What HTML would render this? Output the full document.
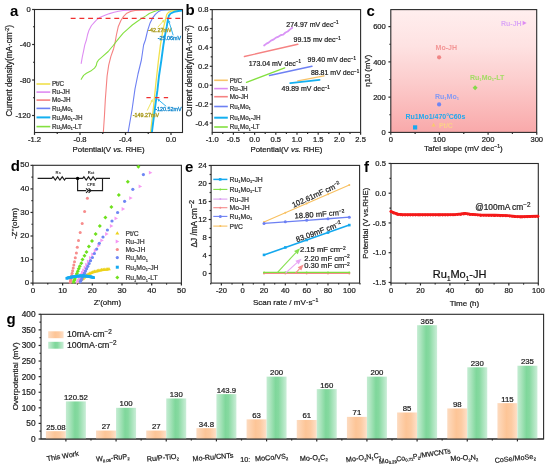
<!DOCTYPE html><html><head><meta charset="utf-8"><style>html,body{margin:0;padding:0;background:#fff;}svg{display:block;will-change:transform;}text{font-family:"Liberation Sans",sans-serif;}</style></head><body>
<svg width="550" height="469" viewBox="0 0 550 469">
<defs>
<linearGradient id="pink" x1="0" y1="0" x2="0" y2="1"><stop offset="0" stop-color="#ffeeee"/><stop offset="0.3" stop-color="#fee2e2"/><stop offset="0.6" stop-color="#fccbcb"/><stop offset="1" stop-color="#f9a9aa"/></linearGradient>
<linearGradient id="grn" x1="0" y1="0" x2="1" y2="0"><stop offset="0" stop-color="#c4ecd2"/><stop offset="0.15" stop-color="#b0e6c2"/><stop offset="0.45" stop-color="#7fd79b"/><stop offset="0.6" stop-color="#86d9a0"/><stop offset="1" stop-color="#cbeed8"/></linearGradient>
<linearGradient id="org" x1="0" y1="0" x2="1" y2="0"><stop offset="0" stop-color="#fddbc0"/><stop offset="0.45" stop-color="#fdc597"/><stop offset="0.7" stop-color="#fdcba2"/><stop offset="1" stop-color="#fee0c9"/></linearGradient>
<marker id="ahY" markerWidth="6" markerHeight="6" refX="5" refY="3" orient="auto" markerUnits="userSpaceOnUse"><path d="M0,0 L6,3 L0,6 z" fill="#ede04a"/></marker>
</defs>
<rect width="550" height="469" fill="#fff"/>
<rect x="34.5" y="9.5" width="148" height="123" fill="none" stroke="#2a2a2a" stroke-width="1.1"/>
<line x1="34.5" y1="132.5" x2="34.5" y2="134.9" stroke="#2a2a2a" stroke-width="1.2" />
<line x1="80" y1="132.5" x2="80" y2="134.9" stroke="#2a2a2a" stroke-width="1.2" />
<line x1="125.5" y1="132.5" x2="125.5" y2="134.9" stroke="#2a2a2a" stroke-width="1.2" />
<line x1="171" y1="132.5" x2="171" y2="134.9" stroke="#2a2a2a" stroke-width="1.2" />
<line x1="57.25" y1="132.5" x2="57.25" y2="134" stroke="#2a2a2a" stroke-width="1.2" />
<line x1="102.75" y1="132.5" x2="102.75" y2="134" stroke="#2a2a2a" stroke-width="1.2" />
<line x1="148.25" y1="132.5" x2="148.25" y2="134" stroke="#2a2a2a" stroke-width="1.2" />
<line x1="32.1" y1="9.5" x2="34.5" y2="9.5" stroke="#2a2a2a" stroke-width="1.2" />
<line x1="32.1" y1="44.5" x2="34.5" y2="44.5" stroke="#2a2a2a" stroke-width="1.2" />
<line x1="32.1" y1="80" x2="34.5" y2="80" stroke="#2a2a2a" stroke-width="1.2" />
<line x1="32.1" y1="115.5" x2="34.5" y2="115.5" stroke="#2a2a2a" stroke-width="1.2" />
<line x1="33" y1="26.75" x2="34.5" y2="26.75" stroke="#2a2a2a" stroke-width="1.2" />
<line x1="33" y1="62.25" x2="34.5" y2="62.25" stroke="#2a2a2a" stroke-width="1.2" />
<line x1="33" y1="97.75" x2="34.5" y2="97.75" stroke="#2a2a2a" stroke-width="1.2" />
<text x="34.5" y="141.74" font-size="7.6" text-anchor="middle" fill="#222" stroke="#222" stroke-width="0.22"><tspan font-size="7.6">-1.2</tspan></text>
<text x="80" y="141.74" font-size="7.6" text-anchor="middle" fill="#222" stroke="#222" stroke-width="0.22"><tspan font-size="7.6">-0.8</tspan></text>
<text x="125.5" y="141.74" font-size="7.6" text-anchor="middle" fill="#222" stroke="#222" stroke-width="0.22"><tspan font-size="7.6">-0.4</tspan></text>
<text x="171" y="141.74" font-size="7.6" text-anchor="middle" fill="#222" stroke="#222" stroke-width="0.22"><tspan font-size="7.6">0.0</tspan></text>
<text x="30.8" y="11.74" font-size="7.6" text-anchor="end" fill="#222" stroke="#222" stroke-width="0.22"><tspan font-size="7.6">0</tspan></text>
<text x="30.8" y="47.24" font-size="7.6" text-anchor="end" fill="#222" stroke="#222" stroke-width="0.22"><tspan font-size="7.6">-40</tspan></text>
<text x="30.8" y="82.74" font-size="7.6" text-anchor="end" fill="#222" stroke="#222" stroke-width="0.22"><tspan font-size="7.6">-80</tspan></text>
<text x="30.8" y="118.24" font-size="7.6" text-anchor="end" fill="#222" stroke="#222" stroke-width="0.22"><tspan font-size="7.6">-120</tspan></text>
<text x="108.6" y="152.23" font-size="7.85" text-anchor="middle" fill="#222" stroke="#222" stroke-width="0.22"><tspan font-size="7.85">Potential(V </tspan><tspan font-size="7.85" font-style="italic">vs.</tspan><tspan font-size="7.85"> RHE)</tspan></text>
<text x="9.1" y="73.75" font-size="8.2" text-anchor="middle" fill="#222" stroke="#222" stroke-width="0.22" transform="rotate(-90 9.1 70.8)"><tspan font-size="8.2">Current density(mA·cm</tspan><tspan dy="-2.95" font-size="5.25">-2</tspan><tspan dy="2.95" font-size="8.2">)</tspan></text>
<text x="10" y="15.5" font-size="15" font-weight="bold" fill="#000">a</text>
<clipPath id="ca"><rect x="35" y="10" width="147" height="122"/></clipPath><g clip-path="url(#ca)">
<polyline points="81.2,63.4 82.3,57 83.6,50.9 84.8,44.8 86.4,40 87.6,34.5 89.1,29.9 91.5,25.5 94.3,22.4 97,19.5 100.3,17.2 105,15.3 109.5,13.6 114.1,12.3 118.6,11.2 123.2,10.5 127.7,10.2 140,9.8 150,9.6" fill="none" stroke="#de8cf2" stroke-width="1.1" stroke-linejoin="round" stroke-linecap="round" />
<polyline points="103.3,133 104.5,115 105.3,100 106.2,88 107.1,76 108.7,65.1 110.9,56.4 113.6,48.7 115,43 116.4,35 118.2,26.8 120.9,20.5 123.6,16.4 126.8,13.2 130.5,11.4 135,10.5 141.4,10.2 155,9.9" fill="none" stroke="#f58282" stroke-width="1.1" stroke-linejoin="round" stroke-linecap="round" />
<polyline points="81.2,79.3 83.6,75.4 86.4,73.3 90.7,71.1 94.5,68.1 96.2,65.6 97,62.4 98.4,60.2 102.7,56.4 108.2,51.5 113.2,45.5 118.6,38.6 123.2,33.2 127.7,29.1 132.3,25 136.8,21.8 141.4,18.6 145.9,15.9 149.3,13.5 153.5,11.7 157.8,10.3 165,9.8 175,9.6" fill="none" stroke="#84e040" stroke-width="1.1" stroke-linejoin="round" stroke-linecap="round" />
<polyline points="128,133 132,110 135,88.8 138,74 141.4,60 143.6,45 145.4,40 147.6,30.6 150.1,22.9 152.7,17.8 155.3,14.4 158.7,11.4 162.1,10.1 170,9.7 178,9.6" fill="none" stroke="#6d80f3" stroke-width="1.1" stroke-linejoin="round" stroke-linecap="round" />
<polyline points="150.5,133 153.4,107.9 155.8,84 158.5,60 160.4,45 162.1,34.9 163.8,26.4 165.5,19.5 166.8,14.4 168.5,12.3 171.5,11 175.8,10.6 182,10.3" fill="none" stroke="#f0e04c" stroke-width="1.3" stroke-linejoin="round" stroke-linecap="round" />
<polyline points="151.8,133 155,107.9 157.4,90.4 159,76 161.4,60 163.4,45 165.1,34.9 166.8,26.4 167.9,19.5 168.9,15.7 170.6,13.5 174.1,11.8 178.3,11 182,10.6" fill="none" stroke="#14b0f0" stroke-width="1.9" stroke-linejoin="round" stroke-linecap="round" />
</g>
<line x1="70.7" y1="18.4" x2="182" y2="18.4" stroke="#f03030" stroke-width="1.25" stroke-dasharray="4.9,3.82"/>
<line x1="146.4" y1="97.5" x2="168.4" y2="97.5" stroke="#f03030" stroke-width="1.25" stroke-dasharray="4.3,4.4"/>
<text x="160" y="32.14" font-size="5.4" text-anchor="middle" fill="#ab9c22" stroke="#ab9c22" stroke-width="0.35"><tspan font-size="5.4">-42.27mV</tspan></text>
<text x="169.4" y="39.84" font-size="5.4" text-anchor="middle" fill="#1a8cd0" stroke="#1a8cd0" stroke-width="0.35"><tspan font-size="5.4">-25.06mV</tspan></text>
<text x="146" y="117.04" font-size="5.4" text-anchor="middle" fill="#ab9c22" stroke="#ab9c22" stroke-width="0.35"><tspan font-size="5.4">-149.27mV</tspan></text>
<text x="168.5" y="110.64" font-size="5.4" text-anchor="middle" fill="#1a8cd0" stroke="#1a8cd0" stroke-width="0.35"><tspan font-size="5.4">-120.52mV</tspan></text>
<line x1="157.8" y1="27.2" x2="162.6" y2="21.84" stroke="#ece24c" stroke-width="0.9" />
<path d="M164.6,19.6 L163.57,22.7 L161.63,20.97 z" fill="#ece24c"/>
<line x1="173.2" y1="35.3" x2="169.29" y2="22.67" stroke="#18aaee" stroke-width="0.9" />
<path d="M168.4,19.8 L170.53,22.28 L168.05,23.05 z" fill="#18aaee"/>
<line x1="147.2" y1="110.6" x2="151.5" y2="101.7" stroke="#ece24c" stroke-width="0.9" />
<path d="M152.8,99 L152.67,102.27 L150.33,101.14 z" fill="#ece24c"/>
<line x1="166.2" y1="106.3" x2="159.5" y2="100.72" stroke="#18aaee" stroke-width="0.9" />
<path d="M157.2,98.8 L160.34,99.72 L158.67,101.72 z" fill="#18aaee"/>
<line x1="36.5" y1="84" x2="50.3" y2="84" stroke="#f0e04c" stroke-width="1.6" />
<text x="51.9" y="86.27" font-size="6.3" text-anchor="start" fill="#333" stroke="#333" stroke-width="0.22"><tspan font-size="6.3">Pt/C</tspan></text>
<line x1="36.5" y1="92.1" x2="50.3" y2="92.1" stroke="#de8cf2" stroke-width="1.6" />
<text x="51.9" y="94.37" font-size="6.3" text-anchor="start" fill="#333" stroke="#333" stroke-width="0.22"><tspan font-size="6.3">Ru-JH</tspan></text>
<line x1="36.5" y1="100.1" x2="50.3" y2="100.1" stroke="#f58282" stroke-width="1.6" />
<text x="51.9" y="102.37" font-size="6.3" text-anchor="start" fill="#333" stroke="#333" stroke-width="0.22"><tspan font-size="6.3">Mo-JH</tspan></text>
<line x1="36.5" y1="108.4" x2="50.3" y2="108.4" stroke="#6d80f3" stroke-width="1.6" />
<text x="51.9" y="110.67" font-size="6.3" text-anchor="start" fill="#333" stroke="#333" stroke-width="0.22"><tspan font-size="6.3">Ru</tspan><tspan dy="1.39" font-size="3.65">1</tspan><tspan dy="-1.39" font-size="6.3">Mo</tspan><tspan dy="1.39" font-size="3.65">1</tspan></text>
<line x1="36.5" y1="117.4" x2="50.3" y2="117.4" stroke="#14b0f0" stroke-width="2.0" />
<text x="51.9" y="119.67" font-size="6.3" text-anchor="start" fill="#333" stroke="#333" stroke-width="0.22"><tspan font-size="6.3">Ru</tspan><tspan dy="1.39" font-size="3.65">1</tspan><tspan dy="-1.39" font-size="6.3">Mo</tspan><tspan dy="1.39" font-size="3.65">1</tspan><tspan dy="-1.39" font-size="6.3">-JH</tspan></text>
<line x1="36.5" y1="126.6" x2="50.3" y2="126.6" stroke="#84e040" stroke-width="1.6" />
<text x="51.9" y="128.87" font-size="6.3" text-anchor="start" fill="#333" stroke="#333" stroke-width="0.22"><tspan font-size="6.3">Ru</tspan><tspan dy="1.39" font-size="3.65">1</tspan><tspan dy="-1.39" font-size="6.3">Mo</tspan><tspan dy="1.39" font-size="3.65">1</tspan><tspan dy="-1.39" font-size="6.3">-LT</tspan></text>
<rect x="212.2" y="9.6" width="148.4" height="122.8" fill="none" stroke="#2a2a2a" stroke-width="1.1"/>
<line x1="212.2" y1="132.4" x2="212.2" y2="134.8" stroke="#2a2a2a" stroke-width="1.2" />
<line x1="233.4" y1="132.4" x2="233.4" y2="134.8" stroke="#2a2a2a" stroke-width="1.2" />
<line x1="254.6" y1="132.4" x2="254.6" y2="134.8" stroke="#2a2a2a" stroke-width="1.2" />
<line x1="275.8" y1="132.4" x2="275.8" y2="134.8" stroke="#2a2a2a" stroke-width="1.2" />
<line x1="297" y1="132.4" x2="297" y2="134.8" stroke="#2a2a2a" stroke-width="1.2" />
<line x1="318.2" y1="132.4" x2="318.2" y2="134.8" stroke="#2a2a2a" stroke-width="1.2" />
<line x1="339.4" y1="132.4" x2="339.4" y2="134.8" stroke="#2a2a2a" stroke-width="1.2" />
<line x1="360.6" y1="132.4" x2="360.6" y2="134.8" stroke="#2a2a2a" stroke-width="1.2" />
<line x1="222.8" y1="132.4" x2="222.8" y2="133.9" stroke="#2a2a2a" stroke-width="1.2" />
<line x1="244" y1="132.4" x2="244" y2="133.9" stroke="#2a2a2a" stroke-width="1.2" />
<line x1="265.2" y1="132.4" x2="265.2" y2="133.9" stroke="#2a2a2a" stroke-width="1.2" />
<line x1="286.4" y1="132.4" x2="286.4" y2="133.9" stroke="#2a2a2a" stroke-width="1.2" />
<line x1="307.6" y1="132.4" x2="307.6" y2="133.9" stroke="#2a2a2a" stroke-width="1.2" />
<line x1="328.8" y1="132.4" x2="328.8" y2="133.9" stroke="#2a2a2a" stroke-width="1.2" />
<line x1="350" y1="132.4" x2="350" y2="133.9" stroke="#2a2a2a" stroke-width="1.2" />
<line x1="209.8" y1="9.6" x2="212.2" y2="9.6" stroke="#2a2a2a" stroke-width="1.2" />
<line x1="209.8" y1="28.5" x2="212.2" y2="28.5" stroke="#2a2a2a" stroke-width="1.2" />
<line x1="209.8" y1="47.4" x2="212.2" y2="47.4" stroke="#2a2a2a" stroke-width="1.2" />
<line x1="209.8" y1="66.3" x2="212.2" y2="66.3" stroke="#2a2a2a" stroke-width="1.2" />
<line x1="209.8" y1="85.2" x2="212.2" y2="85.2" stroke="#2a2a2a" stroke-width="1.2" />
<line x1="209.8" y1="104.1" x2="212.2" y2="104.1" stroke="#2a2a2a" stroke-width="1.2" />
<line x1="209.8" y1="123" x2="212.2" y2="123" stroke="#2a2a2a" stroke-width="1.2" />
<line x1="210.7" y1="19.05" x2="212.2" y2="19.05" stroke="#2a2a2a" stroke-width="1.2" />
<line x1="210.7" y1="37.95" x2="212.2" y2="37.95" stroke="#2a2a2a" stroke-width="1.2" />
<line x1="210.7" y1="56.85" x2="212.2" y2="56.85" stroke="#2a2a2a" stroke-width="1.2" />
<line x1="210.7" y1="75.75" x2="212.2" y2="75.75" stroke="#2a2a2a" stroke-width="1.2" />
<line x1="210.7" y1="94.65" x2="212.2" y2="94.65" stroke="#2a2a2a" stroke-width="1.2" />
<line x1="210.7" y1="113.55" x2="212.2" y2="113.55" stroke="#2a2a2a" stroke-width="1.2" />
<text x="212.2" y="141.74" font-size="7.6" text-anchor="middle" fill="#222" stroke="#222" stroke-width="0.22"><tspan font-size="7.6">-1.0</tspan></text>
<text x="233.4" y="141.74" font-size="7.6" text-anchor="middle" fill="#222" stroke="#222" stroke-width="0.22"><tspan font-size="7.6">-0.5</tspan></text>
<text x="254.6" y="141.74" font-size="7.6" text-anchor="middle" fill="#222" stroke="#222" stroke-width="0.22"><tspan font-size="7.6">0.0</tspan></text>
<text x="275.8" y="141.74" font-size="7.6" text-anchor="middle" fill="#222" stroke="#222" stroke-width="0.22"><tspan font-size="7.6">0.5</tspan></text>
<text x="297" y="141.74" font-size="7.6" text-anchor="middle" fill="#222" stroke="#222" stroke-width="0.22"><tspan font-size="7.6">1.0</tspan></text>
<text x="318.2" y="141.74" font-size="7.6" text-anchor="middle" fill="#222" stroke="#222" stroke-width="0.22"><tspan font-size="7.6">1.5</tspan></text>
<text x="339.4" y="141.74" font-size="7.6" text-anchor="middle" fill="#222" stroke="#222" stroke-width="0.22"><tspan font-size="7.6">2.0</tspan></text>
<text x="360.6" y="141.74" font-size="7.6" text-anchor="middle" fill="#222" stroke="#222" stroke-width="0.22"><tspan font-size="7.6">2.5</tspan></text>
<text x="208.6" y="12.34" font-size="7.6" text-anchor="end" fill="#222" stroke="#222" stroke-width="0.22"><tspan font-size="7.6">0.8</tspan></text>
<text x="208.6" y="31.24" font-size="7.6" text-anchor="end" fill="#222" stroke="#222" stroke-width="0.22"><tspan font-size="7.6">0.6</tspan></text>
<text x="208.6" y="50.14" font-size="7.6" text-anchor="end" fill="#222" stroke="#222" stroke-width="0.22"><tspan font-size="7.6">0.4</tspan></text>
<text x="208.6" y="69.04" font-size="7.6" text-anchor="end" fill="#222" stroke="#222" stroke-width="0.22"><tspan font-size="7.6">0.2</tspan></text>
<text x="208.6" y="87.94" font-size="7.6" text-anchor="end" fill="#222" stroke="#222" stroke-width="0.22"><tspan font-size="7.6">0.0</tspan></text>
<text x="208.6" y="106.84" font-size="7.6" text-anchor="end" fill="#222" stroke="#222" stroke-width="0.22"><tspan font-size="7.6">-0.2</tspan></text>
<text x="208.6" y="125.74" font-size="7.6" text-anchor="end" fill="#222" stroke="#222" stroke-width="0.22"><tspan font-size="7.6">-0.4</tspan></text>
<text x="286.4" y="152.43" font-size="7.85" text-anchor="middle" fill="#222" stroke="#222" stroke-width="0.22"><tspan font-size="7.85">Potential(V </tspan><tspan font-size="7.85" font-style="italic">vs.</tspan><tspan font-size="7.85"> RHE)</tspan></text>
<text x="188.7" y="73.95" font-size="8.2" text-anchor="middle" fill="#222" stroke="#222" stroke-width="0.22" transform="rotate(-90 188.7 71)"><tspan font-size="8.2">Current density(mA·cm</tspan><tspan dy="-2.95" font-size="5.25">-2</tspan><tspan dy="2.95" font-size="8.2">)</tspan></text>
<text x="185.5" y="14.8" font-size="15" font-weight="bold" fill="#000">b</text>
<polyline points="264.1,45.5 266.5,43.6 268.6,42.6 271,40.6 273.2,39.7 276,37.6 278.6,36.6 281,35 283.2,34.6 285.5,32.5 287.7,31.5 290,29.4 292.3,27.7" fill="none" stroke="#d994f6" stroke-width="1.8" stroke-linejoin="round" stroke-linecap="round" />
<polyline points="244.4,56.5 297.8,44.3" fill="none" stroke="#f58282" stroke-width="1.4" stroke-linejoin="round" stroke-linecap="round" />
<polyline points="246.5,82.4 284.7,67.8" fill="none" stroke="#84e040" stroke-width="1.3" stroke-linejoin="round" stroke-linecap="round" />
<polyline points="269.5,75.5 312,66.3" fill="none" stroke="#6d80f3" stroke-width="1.4" stroke-linejoin="round" stroke-linecap="round" />
<polyline points="297.8,80.9 324,75.9" fill="none" stroke="#f8c46a" stroke-width="1.4" stroke-linejoin="round" stroke-linecap="round" />
<polyline points="290.2,83.1 319.6,79.8" fill="none" stroke="#14b0f0" stroke-width="1.8" stroke-linejoin="round" stroke-linecap="round" />
<text x="286.3" y="26.72" font-size="7" text-anchor="start" fill="#222" stroke="#222" stroke-width="0.22"><tspan font-size="7">274.97 mV dec</tspan><tspan dy="-2.52" font-size="4.48">−1</tspan></text>
<text x="293.5" y="42.02" font-size="7" text-anchor="start" fill="#222" stroke="#222" stroke-width="0.22"><tspan font-size="7">99.15 mv dec</tspan><tspan dy="-2.52" font-size="4.48">−1</tspan></text>
<text x="248.7" y="65.52" font-size="7" text-anchor="start" fill="#222" stroke="#222" stroke-width="0.22"><tspan font-size="7">173.04 mV dec</tspan><tspan dy="-2.52" font-size="4.48">−1</tspan></text>
<text x="307.6" y="62.22" font-size="7" text-anchor="start" fill="#222" stroke="#222" stroke-width="0.22"><tspan font-size="7">99.40 mV dec</tspan><tspan dy="-2.52" font-size="4.48">−1</tspan></text>
<text x="310.9" y="75.32" font-size="7" text-anchor="start" fill="#222" stroke="#222" stroke-width="0.22"><tspan font-size="7">88.81 mV dec</tspan><tspan dy="-2.52" font-size="4.48">−1</tspan></text>
<text x="281.5" y="91.12" font-size="7" text-anchor="start" fill="#222" stroke="#222" stroke-width="0.22"><tspan font-size="7">49.89 mV dec</tspan><tspan dy="-2.52" font-size="4.48">−1</tspan></text>
<line x1="214.2" y1="80.3" x2="227.8" y2="80.3" stroke="#f8c46a" stroke-width="1.6" />
<text x="229.8" y="82.57" font-size="6.3" text-anchor="start" fill="#333" stroke="#333" stroke-width="0.22"><tspan font-size="6.3">Pt/C</tspan></text>
<line x1="214.2" y1="88.6" x2="227.8" y2="88.6" stroke="#de8cf2" stroke-width="1.6" />
<text x="229.8" y="90.87" font-size="6.3" text-anchor="start" fill="#333" stroke="#333" stroke-width="0.22"><tspan font-size="6.3">Ru-JH</tspan></text>
<line x1="214.2" y1="96.7" x2="227.8" y2="96.7" stroke="#f58282" stroke-width="1.6" />
<text x="229.8" y="98.97" font-size="6.3" text-anchor="start" fill="#333" stroke="#333" stroke-width="0.22"><tspan font-size="6.3">Mo-JH</tspan></text>
<line x1="214.2" y1="106.5" x2="227.8" y2="106.5" stroke="#6d80f3" stroke-width="1.6" />
<text x="229.8" y="108.77" font-size="6.3" text-anchor="start" fill="#333" stroke="#333" stroke-width="0.22"><tspan font-size="6.3">Ru</tspan><tspan dy="1.39" font-size="3.65">1</tspan><tspan dy="-1.39" font-size="6.3">Mo</tspan><tspan dy="1.39" font-size="3.65">1</tspan></text>
<line x1="214.2" y1="117.7" x2="227.8" y2="117.7" stroke="#14b0f0" stroke-width="2.0" />
<text x="229.8" y="119.97" font-size="6.3" text-anchor="start" fill="#333" stroke="#333" stroke-width="0.22"><tspan font-size="6.3">Ru</tspan><tspan dy="1.39" font-size="3.65">1</tspan><tspan dy="-1.39" font-size="6.3">Mo</tspan><tspan dy="1.39" font-size="3.65">1</tspan><tspan dy="-1.39" font-size="6.3">-JH</tspan></text>
<line x1="214.2" y1="127" x2="227.8" y2="127" stroke="#84e040" stroke-width="1.6" />
<text x="229.8" y="129.27" font-size="6.3" text-anchor="start" fill="#333" stroke="#333" stroke-width="0.22"><tspan font-size="6.3">Ru</tspan><tspan dy="1.39" font-size="3.65">1</tspan><tspan dy="-1.39" font-size="6.3">Mo</tspan><tspan dy="1.39" font-size="3.65">1</tspan><tspan dy="-1.39" font-size="6.3">-LT</tspan></text>
<rect x="390.8" y="9.6" width="145.9" height="122.8" fill="url(#pink)"/>
<rect x="390.8" y="9.6" width="145.9" height="122.8" fill="none" stroke="#2a2a2a" stroke-width="1.1"/>
<line x1="390.8" y1="132.4" x2="390.8" y2="134.8" stroke="#2a2a2a" stroke-width="1.2" />
<line x1="439.45" y1="132.4" x2="439.45" y2="134.8" stroke="#2a2a2a" stroke-width="1.2" />
<line x1="488.1" y1="132.4" x2="488.1" y2="134.8" stroke="#2a2a2a" stroke-width="1.2" />
<line x1="536.75" y1="132.4" x2="536.75" y2="134.8" stroke="#2a2a2a" stroke-width="1.2" />
<line x1="415.12" y1="132.4" x2="415.12" y2="133.9" stroke="#2a2a2a" stroke-width="1.2" />
<line x1="463.77" y1="132.4" x2="463.77" y2="133.9" stroke="#2a2a2a" stroke-width="1.2" />
<line x1="512.42" y1="132.4" x2="512.42" y2="133.9" stroke="#2a2a2a" stroke-width="1.2" />
<line x1="388.4" y1="132.4" x2="390.8" y2="132.4" stroke="#2a2a2a" stroke-width="1.2" />
<line x1="388.4" y1="97.14" x2="390.8" y2="97.14" stroke="#2a2a2a" stroke-width="1.2" />
<line x1="388.4" y1="61.88" x2="390.8" y2="61.88" stroke="#2a2a2a" stroke-width="1.2" />
<line x1="388.4" y1="26.62" x2="390.8" y2="26.62" stroke="#2a2a2a" stroke-width="1.2" />
<line x1="389.3" y1="114.77" x2="390.8" y2="114.77" stroke="#2a2a2a" stroke-width="1.2" />
<line x1="389.3" y1="79.51" x2="390.8" y2="79.51" stroke="#2a2a2a" stroke-width="1.2" />
<line x1="389.3" y1="44.25" x2="390.8" y2="44.25" stroke="#2a2a2a" stroke-width="1.2" />
<text x="390.8" y="141.74" font-size="7.6" text-anchor="middle" fill="#222" stroke="#222" stroke-width="0.22"><tspan font-size="7.6">0</tspan></text>
<text x="439.45" y="141.74" font-size="7.6" text-anchor="middle" fill="#222" stroke="#222" stroke-width="0.22"><tspan font-size="7.6">100</tspan></text>
<text x="488.1" y="141.74" font-size="7.6" text-anchor="middle" fill="#222" stroke="#222" stroke-width="0.22"><tspan font-size="7.6">200</tspan></text>
<text x="536.75" y="141.74" font-size="7.6" text-anchor="middle" fill="#222" stroke="#222" stroke-width="0.22"><tspan font-size="7.6">300</tspan></text>
<text x="385.8" y="135.14" font-size="7.6" text-anchor="end" fill="#222" stroke="#222" stroke-width="0.22"><tspan font-size="7.6">0</tspan></text>
<text x="385.8" y="99.88" font-size="7.6" text-anchor="end" fill="#222" stroke="#222" stroke-width="0.22"><tspan font-size="7.6">200</tspan></text>
<text x="385.8" y="64.62" font-size="7.6" text-anchor="end" fill="#222" stroke="#222" stroke-width="0.22"><tspan font-size="7.6">400</tspan></text>
<text x="385.8" y="29.36" font-size="7.6" text-anchor="end" fill="#222" stroke="#222" stroke-width="0.22"><tspan font-size="7.6">600</tspan></text>
<text x="463.4" y="151.28" font-size="8" text-anchor="middle" fill="#222" stroke="#222" stroke-width="0.22"><tspan font-size="8">Tafel slope (mV dec</tspan><tspan dy="-2.88" font-size="5.12">−1</tspan><tspan dy="2.88" font-size="8">)</tspan></text>
<text x="367.4" y="73.61" font-size="7.8" text-anchor="middle" fill="#222" stroke="#222" stroke-width="0.22" transform="rotate(-90 367.4 70.8)"><tspan font-size="7.8">η10 (mV)</tspan></text>
<text x="366.6" y="16" font-size="15" font-weight="bold" fill="#000">c</text>
<path d="M522.6,20.8 L526.6,23 L522.6,25.2 z" fill="#de8cf2"/>
<text x="521.6" y="25.52" font-size="7" text-anchor="end" fill="#dca8f6" font-weight="bold"><tspan font-size="7">Ru-JH</tspan></text>
<circle cx="439.1" cy="57.3" r="2.1" fill="#f08686"/>
<text x="446.3" y="50.22" font-size="7" text-anchor="middle" fill="#f39595" font-weight="bold"><tspan font-size="7">Mo-JH</tspan></text>
<path d="M475.1,85.3 L477.6,87.8 L475.1,90.3 L472.6,87.8 z" fill="#86d84a"/>
<text x="487.2" y="79.72" font-size="7" text-anchor="middle" fill="#a2dc62" font-weight="bold"><tspan font-size="7">Ru</tspan><tspan dy="1.54" font-size="4.06">1</tspan><tspan dy="-1.54" font-size="7">Mo</tspan><tspan dy="1.54" font-size="4.06">1</tspan><tspan dy="-1.54" font-size="7">-LT</tspan></text>
<circle cx="439.1" cy="104.4" r="2.1" fill="#6f86f2"/>
<text x="447" y="98.82" font-size="7" text-anchor="middle" fill="#8299f4" font-weight="bold"><tspan font-size="7">Ru</tspan><tspan dy="1.54" font-size="4.06">1</tspan><tspan dy="-1.54" font-size="7">Mo</tspan><tspan dy="1.54" font-size="4.06">1</tspan></text>
<rect x="413" y="125.3" width="4.2" height="4.2" fill="#18a8f0"/>
<text x="435.4" y="119.22" font-size="7" text-anchor="middle" fill="#20a8ee" font-weight="bold"><tspan font-size="7">Ru1Mo1/470°<tspan dx="-0.4">C</tspan>60s</tspan></text>
<path d="M431.6,126.4 L433.6,122.8 L435.6,126.4 z" fill="#f8c870"/>
<text x="438.9" y="127.72" font-size="7" text-anchor="start" fill="#fbd08a" font-weight="bold"><tspan font-size="7">Pt/C</tspan></text>
<rect x="32.9" y="165.3" width="148.5" height="117.8" fill="none" stroke="#2a2a2a" stroke-width="1.1"/>
<line x1="32.9" y1="283.1" x2="32.9" y2="285.5" stroke="#2a2a2a" stroke-width="1.2" />
<line x1="62.6" y1="283.1" x2="62.6" y2="285.5" stroke="#2a2a2a" stroke-width="1.2" />
<line x1="92.3" y1="283.1" x2="92.3" y2="285.5" stroke="#2a2a2a" stroke-width="1.2" />
<line x1="122" y1="283.1" x2="122" y2="285.5" stroke="#2a2a2a" stroke-width="1.2" />
<line x1="151.7" y1="283.1" x2="151.7" y2="285.5" stroke="#2a2a2a" stroke-width="1.2" />
<line x1="181.4" y1="283.1" x2="181.4" y2="285.5" stroke="#2a2a2a" stroke-width="1.2" />
<line x1="47.75" y1="283.1" x2="47.75" y2="284.6" stroke="#2a2a2a" stroke-width="1.2" />
<line x1="77.45" y1="283.1" x2="77.45" y2="284.6" stroke="#2a2a2a" stroke-width="1.2" />
<line x1="107.15" y1="283.1" x2="107.15" y2="284.6" stroke="#2a2a2a" stroke-width="1.2" />
<line x1="136.85" y1="283.1" x2="136.85" y2="284.6" stroke="#2a2a2a" stroke-width="1.2" />
<line x1="166.55" y1="283.1" x2="166.55" y2="284.6" stroke="#2a2a2a" stroke-width="1.2" />
<line x1="30.5" y1="283.1" x2="32.9" y2="283.1" stroke="#2a2a2a" stroke-width="1.2" />
<line x1="30.5" y1="259.55" x2="32.9" y2="259.55" stroke="#2a2a2a" stroke-width="1.2" />
<line x1="30.5" y1="236" x2="32.9" y2="236" stroke="#2a2a2a" stroke-width="1.2" />
<line x1="30.5" y1="212.45" x2="32.9" y2="212.45" stroke="#2a2a2a" stroke-width="1.2" />
<line x1="30.5" y1="188.9" x2="32.9" y2="188.9" stroke="#2a2a2a" stroke-width="1.2" />
<line x1="30.5" y1="165.35" x2="32.9" y2="165.35" stroke="#2a2a2a" stroke-width="1.2" />
<line x1="31.4" y1="271.33" x2="32.9" y2="271.33" stroke="#2a2a2a" stroke-width="1.2" />
<line x1="31.4" y1="247.78" x2="32.9" y2="247.78" stroke="#2a2a2a" stroke-width="1.2" />
<line x1="31.4" y1="224.23" x2="32.9" y2="224.23" stroke="#2a2a2a" stroke-width="1.2" />
<line x1="31.4" y1="200.68" x2="32.9" y2="200.68" stroke="#2a2a2a" stroke-width="1.2" />
<line x1="31.4" y1="177.13" x2="32.9" y2="177.13" stroke="#2a2a2a" stroke-width="1.2" />
<text x="32.9" y="292.78" font-size="8" text-anchor="middle" fill="#222" stroke="#222" stroke-width="0.22"><tspan font-size="8">0</tspan></text>
<text x="62.6" y="292.78" font-size="8" text-anchor="middle" fill="#222" stroke="#222" stroke-width="0.22"><tspan font-size="8">10</tspan></text>
<text x="92.3" y="292.78" font-size="8" text-anchor="middle" fill="#222" stroke="#222" stroke-width="0.22"><tspan font-size="8">20</tspan></text>
<text x="122" y="292.78" font-size="8" text-anchor="middle" fill="#222" stroke="#222" stroke-width="0.22"><tspan font-size="8">30</tspan></text>
<text x="151.7" y="292.78" font-size="8" text-anchor="middle" fill="#222" stroke="#222" stroke-width="0.22"><tspan font-size="8">40</tspan></text>
<text x="181.4" y="292.78" font-size="8" text-anchor="middle" fill="#222" stroke="#222" stroke-width="0.22"><tspan font-size="8">50</tspan></text>
<text x="29.2" y="285.48" font-size="8" text-anchor="end" fill="#222" stroke="#222" stroke-width="0.22"><tspan font-size="8">0</tspan></text>
<text x="29.2" y="261.93" font-size="8" text-anchor="end" fill="#222" stroke="#222" stroke-width="0.22"><tspan font-size="8">10</tspan></text>
<text x="29.2" y="238.38" font-size="8" text-anchor="end" fill="#222" stroke="#222" stroke-width="0.22"><tspan font-size="8">20</tspan></text>
<text x="29.2" y="214.83" font-size="8" text-anchor="end" fill="#222" stroke="#222" stroke-width="0.22"><tspan font-size="8">30</tspan></text>
<text x="29.2" y="191.28" font-size="8" text-anchor="end" fill="#222" stroke="#222" stroke-width="0.22"><tspan font-size="8">40</tspan></text>
<text x="29.2" y="167.28" font-size="8" text-anchor="end" fill="#222" stroke="#222" stroke-width="0.22"><tspan font-size="8">50</tspan></text>
<text x="107.4" y="305.18" font-size="8" text-anchor="middle" fill="#222" stroke="#222" stroke-width="0.22"><tspan font-size="8">Z'(ohm)</tspan></text>
<text x="14.3" y="226.34" font-size="7.9" text-anchor="middle" fill="#222" stroke="#222" stroke-width="0.22" transform="rotate(-90 14.3 223.5)"><tspan font-size="7.9">-Z''(ohm)</tspan></text>
<text x="10.8" y="171.3" font-size="15" font-weight="bold" fill="#000">d</text>
<g fill="none" stroke="#1e1e1e" stroke-width="1.15">
<path d="M37.6,178.4 H51.8 l1.2,-1.6 l2.3,3.2 l2.3,-3.2 l2.3,3.2 l2.3,-3.2 l2.3,3.2 l1.1,-1.6 H82.7 l1.2,-1.6 l2.3,3.2 l2.3,-3.2 l2.3,3.2 l2.3,-3.2 l2.3,3.2 l1.1,-1.6 H110"/>
<path d="M77.6,178.4 V190.6 H86.2 M88.6,190.6 H102.5 V178.4"/>
<path d="M86,188.4 L88.4,190.6 L86,192.8 M88.6,188.4 L91,190.6 L88.6,192.8"/>
</g>
<circle cx="77.6" cy="178.4" r="1.7" fill="#000"/>
<text x="58.3" y="173.71" font-size="4.2" text-anchor="middle" fill="#333" font-weight="bold"><tspan font-size="4.2">Rs</tspan></text>
<text x="91" y="173.71" font-size="4.2" text-anchor="middle" fill="#333" font-weight="bold"><tspan font-size="4.2">Rct</tspan></text>
<text x="91" y="185.51" font-size="4.2" text-anchor="middle" fill="#333" font-weight="bold"><tspan font-size="4.2">CPE</tspan></text>
<path d="M77.6,280 L79.5,283.3 L75.7,283.3 z" fill="#ecd21a"/>
<path d="M78.79,279.26 L80.69,282.56 L76.89,282.56 z" fill="#ecd21a"/>
<path d="M79.97,278.52 L81.87,281.82 L78.07,281.82 z" fill="#ecd21a"/>
<path d="M80,278.5 L81.9,281.8 L78.1,281.8 z" fill="#ecd21a"/>
<path d="M81.18,277.74 L83.08,281.04 L79.28,281.04 z" fill="#ecd21a"/>
<path d="M82.35,276.98 L84.25,280.28 L80.45,280.28 z" fill="#ecd21a"/>
<path d="M83.1,276.5 L85,279.8 L81.2,279.8 z" fill="#ecd21a"/>
<path d="M84.13,275.55 L86.03,278.85 L82.23,278.85 z" fill="#ecd21a"/>
<path d="M85.16,274.61 L87.06,277.91 L83.26,277.91 z" fill="#ecd21a"/>
<path d="M86.2,273.66 L88.1,276.96 L84.3,276.96 z" fill="#ecd21a"/>
<path d="M86.7,273.2 L88.6,276.5 L84.8,276.5 z" fill="#ecd21a"/>
<path d="M87.91,272.5 L89.81,275.8 L86.01,275.8 z" fill="#ecd21a"/>
<path d="M89.13,271.8 L91.03,275.1 L87.23,275.1 z" fill="#ecd21a"/>
<path d="M90,271.3 L91.9,274.6 L88.1,274.6 z" fill="#ecd21a"/>
<path d="M91.31,270.8 L93.21,274.1 L89.41,274.1 z" fill="#ecd21a"/>
<path d="M92.61,270.3 L94.51,273.6 L90.71,273.6 z" fill="#ecd21a"/>
<path d="M93.92,269.8 L95.82,273.1 L92.02,273.1 z" fill="#ecd21a"/>
<path d="M94.7,269.5 L96.6,272.8 L92.8,272.8 z" fill="#ecd21a"/>
<path d="M96.06,269.18 L97.96,272.48 L94.16,272.48 z" fill="#ecd21a"/>
<path d="M97.43,268.86 L99.33,272.16 L95.53,272.16 z" fill="#ecd21a"/>
<path d="M98.79,268.55 L100.69,271.85 L96.89,271.85 z" fill="#ecd21a"/>
<path d="M100.15,268.23 L102.05,271.53 L98.25,271.53 z" fill="#ecd21a"/>
<path d="M101.52,267.91 L103.42,271.21 L99.62,271.21 z" fill="#ecd21a"/>
<path d="M102,267.8 L103.9,271.1 L100.1,271.1 z" fill="#ecd21a"/>
<path d="M103.39,267.65 L105.29,270.95 L101.49,270.95 z" fill="#ecd21a"/>
<path d="M104.78,267.5 L106.68,270.8 L102.88,270.8 z" fill="#ecd21a"/>
<path d="M106.18,267.35 L108.08,270.65 L104.28,270.65 z" fill="#ecd21a"/>
<path d="M107.57,267.21 L109.47,270.51 L105.67,270.51 z" fill="#ecd21a"/>
<path d="M108.96,267.06 L110.86,270.36 L107.06,270.36 z" fill="#ecd21a"/>
<path d="M148.9,170.8 L152.4,172.7 L148.9,174.6 z" fill="#f69af2"/>
<path d="M138.6,184.5 L142.1,186.4 L138.6,188.3 z" fill="#f69af2"/>
<path d="M129.2,196.2 L132.7,198.1 L129.2,200 z" fill="#f69af2"/>
<path d="M121.6,207.1 L125.1,209 L121.6,210.9 z" fill="#f69af2"/>
<path d="M114.5,216.5 L118,218.4 L114.5,220.3 z" fill="#f69af2"/>
<path d="M109.9,224.1 L113.4,226 L109.9,227.9 z" fill="#f69af2"/>
<path d="M105.1,232.1 L108.6,234 L105.1,235.9 z" fill="#f69af2"/>
<path d="M100.3,238.5 L103.8,240.4 L100.3,242.3 z" fill="#f69af2"/>
<path d="M97.3,243.6 L100.8,245.5 L97.3,247.4 z" fill="#f69af2"/>
<path d="M93.8,248.6 L97.3,250.5 L93.8,252.4 z" fill="#f69af2"/>
<path d="M91.3,252.4 L94.8,254.3 L91.3,256.2 z" fill="#f69af2"/>
<path d="M89,255.9 L92.5,257.8 L89,259.7 z" fill="#f69af2"/>
<path d="M86.9,259.6 L90.4,261.5 L86.9,263.4 z" fill="#f69af2"/>
<path d="M85.21,262.8 L88.71,264.7 L85.21,266.6 z" fill="#f69af2"/>
<path d="M83.69,265.7 L87.19,267.6 L83.69,269.5 z" fill="#f69af2"/>
<path d="M82.26,268.4 L85.76,270.3 L82.26,272.2 z" fill="#f69af2"/>
<path d="M81,270.8 L84.5,272.7 L81,274.6 z" fill="#f69af2"/>
<path d="M79.84,273 L83.34,274.9 L79.84,276.8 z" fill="#f69af2"/>
<path d="M78.79,275 L82.29,276.9 L78.79,278.8 z" fill="#f69af2"/>
<path d="M77.84,276.8 L81.34,278.7 L77.84,280.6 z" fill="#f69af2"/>
<path d="M76.94,278.5 L80.44,280.4 L76.94,282.3 z" fill="#f69af2"/>
<path d="M76.1,280.1 L79.6,282 L76.1,283.9 z" fill="#f69af2"/>
<circle cx="87.4" cy="198.2" r="1.5" fill="#f78c8c"/>
<circle cx="84.6" cy="211.6" r="1.5" fill="#f78c8c"/>
<circle cx="82.2" cy="223.4" r="1.5" fill="#f78c8c"/>
<circle cx="80.2" cy="232.4" r="1.5" fill="#f78c8c"/>
<circle cx="78.5" cy="240.5" r="1.5" fill="#f78c8c"/>
<circle cx="77.3" cy="247.3" r="1.5" fill="#f78c8c"/>
<circle cx="76.4" cy="253.1" r="1.5" fill="#f78c8c"/>
<circle cx="75.3" cy="257.7" r="1.5" fill="#f78c8c"/>
<circle cx="74.5" cy="261.8" r="1.5" fill="#f78c8c"/>
<circle cx="73.8" cy="265.1" r="1.5" fill="#f78c8c"/>
<circle cx="73.18" cy="268.1" r="1.5" fill="#f78c8c"/>
<circle cx="72.62" cy="270.8" r="1.5" fill="#f78c8c"/>
<circle cx="72.12" cy="273.2" r="1.5" fill="#f78c8c"/>
<circle cx="71.67" cy="275.4" r="1.5" fill="#f78c8c"/>
<circle cx="71.26" cy="277.4" r="1.5" fill="#f78c8c"/>
<circle cx="70.88" cy="279.2" r="1.5" fill="#f78c8c"/>
<circle cx="70.55" cy="280.8" r="1.5" fill="#f78c8c"/>
<circle cx="70.26" cy="282.2" r="1.5" fill="#f78c8c"/>
<circle cx="143.4" cy="174.6" r="1.6" fill="#6e86f4"/>
<circle cx="132.8" cy="189.3" r="1.6" fill="#6e86f4"/>
<circle cx="124.6" cy="201.3" r="1.6" fill="#6e86f4"/>
<circle cx="117.6" cy="212.5" r="1.6" fill="#6e86f4"/>
<circle cx="112" cy="221" r="1.6" fill="#6e86f4"/>
<circle cx="107.4" cy="230" r="1.6" fill="#6e86f4"/>
<circle cx="103" cy="237" r="1.6" fill="#6e86f4"/>
<circle cx="99.3" cy="243.3" r="1.6" fill="#6e86f4"/>
<circle cx="96.7" cy="249" r="1.6" fill="#6e86f4"/>
<circle cx="94.4" cy="253.5" r="1.6" fill="#6e86f4"/>
<circle cx="92.4" cy="257.5" r="1.6" fill="#6e86f4"/>
<circle cx="90.5" cy="260.7" r="1.6" fill="#6e86f4"/>
<circle cx="89.1" cy="263.6" r="1.6" fill="#6e86f4"/>
<circle cx="87.79" cy="266.3" r="1.6" fill="#6e86f4"/>
<circle cx="86.58" cy="268.8" r="1.6" fill="#6e86f4"/>
<circle cx="85.47" cy="271.1" r="1.6" fill="#6e86f4"/>
<circle cx="84.46" cy="273.2" r="1.6" fill="#6e86f4"/>
<circle cx="83.49" cy="275.2" r="1.6" fill="#6e86f4"/>
<circle cx="82.62" cy="277" r="1.6" fill="#6e86f4"/>
<circle cx="81.8" cy="278.7" r="1.6" fill="#6e86f4"/>
<circle cx="81.02" cy="280.3" r="1.6" fill="#6e86f4"/>
<circle cx="80.3" cy="281.8" r="1.6" fill="#6e86f4"/>
<path d="M138.4,164.8 L140.4,166.8 L138.4,168.8 L136.4,166.8 z" fill="#6ee01c"/>
<path d="M127.8,179.7 L129.8,181.7 L127.8,183.7 L125.8,181.7 z" fill="#6ee01c"/>
<path d="M118.8,192.9 L120.8,194.9 L118.8,196.9 L116.8,194.9 z" fill="#6ee01c"/>
<path d="M111.4,205.1 L113.4,207.1 L111.4,209.1 L109.4,207.1 z" fill="#6ee01c"/>
<path d="M105.4,215.4 L107.4,217.4 L105.4,219.4 L103.4,217.4 z" fill="#6ee01c"/>
<path d="M99.8,224 L101.8,226 L99.8,228 L97.8,226 z" fill="#6ee01c"/>
<path d="M95.6,232 L97.6,234 L95.6,236 L93.6,234 z" fill="#6ee01c"/>
<path d="M92,238.9 L94,240.9 L92,242.9 L90,240.9 z" fill="#6ee01c"/>
<path d="M88.9,244.5 L90.9,246.5 L88.9,248.5 L86.9,246.5 z" fill="#6ee01c"/>
<path d="M86.5,249.9 L88.5,251.9 L86.5,253.9 L84.5,251.9 z" fill="#6ee01c"/>
<path d="M84.47,253.8 L86.47,255.8 L84.47,257.8 L82.47,255.8 z" fill="#6ee01c"/>
<path d="M82.5,257.6 L84.5,259.6 L82.5,261.6 L80.5,259.6 z" fill="#6ee01c"/>
<path d="M81.3,261.3 L83.3,263.3 L81.3,265.3 L79.3,263.3 z" fill="#6ee01c"/>
<path d="M79.73,264.2 L81.73,266.2 L79.73,268.2 L77.73,266.2 z" fill="#6ee01c"/>
<path d="M78.72,266.8 L80.72,268.8 L78.72,270.8 L76.72,268.8 z" fill="#6ee01c"/>
<path d="M77.79,269.2 L79.79,271.2 L77.79,273.2 L75.79,271.2 z" fill="#6ee01c"/>
<path d="M76.94,271.4 L78.94,273.4 L76.94,275.4 L74.94,273.4 z" fill="#6ee01c"/>
<path d="M76.16,273.4 L78.16,275.4 L76.16,277.4 L74.16,275.4 z" fill="#6ee01c"/>
<path d="M75.46,275.2 L77.46,277.2 L75.46,279.2 L73.46,277.2 z" fill="#6ee01c"/>
<path d="M74.8,276.9 L76.8,278.9 L74.8,280.9 L72.8,278.9 z" fill="#6ee01c"/>
<path d="M74.18,278.5 L76.18,280.5 L74.18,282.5 L72.18,280.5 z" fill="#6ee01c"/>
<path d="M73.6,280 L75.6,282 L73.6,284 L71.6,282 z" fill="#6ee01c"/>
<rect x="65.45" y="276.95" width="2.7" height="2.7" fill="#14aaf0"/>
<rect x="66.31" y="276.68" width="2.7" height="2.7" fill="#14aaf0"/>
<rect x="67.17" y="276.4" width="2.7" height="2.7" fill="#14aaf0"/>
<rect x="67.65" y="276.25" width="2.7" height="2.7" fill="#14aaf0"/>
<rect x="68.53" y="276.07" width="2.7" height="2.7" fill="#14aaf0"/>
<rect x="69.42" y="275.9" width="2.7" height="2.7" fill="#14aaf0"/>
<rect x="70.3" y="275.72" width="2.7" height="2.7" fill="#14aaf0"/>
<rect x="70.65" y="275.65" width="2.7" height="2.7" fill="#14aaf0"/>
<rect x="71.54" y="275.49" width="2.7" height="2.7" fill="#14aaf0"/>
<rect x="72.42" y="275.34" width="2.7" height="2.7" fill="#14aaf0"/>
<rect x="73.31" y="275.18" width="2.7" height="2.7" fill="#14aaf0"/>
<rect x="74.2" y="275.03" width="2.7" height="2.7" fill="#14aaf0"/>
<rect x="74.65" y="274.95" width="2.7" height="2.7" fill="#14aaf0"/>
<rect x="75.55" y="274.86" width="2.7" height="2.7" fill="#14aaf0"/>
<rect x="76.44" y="274.77" width="2.7" height="2.7" fill="#14aaf0"/>
<rect x="77.34" y="274.68" width="2.7" height="2.7" fill="#14aaf0"/>
<rect x="78.23" y="274.59" width="2.7" height="2.7" fill="#14aaf0"/>
<rect x="78.65" y="274.55" width="2.7" height="2.7" fill="#14aaf0"/>
<rect x="79.55" y="274.55" width="2.7" height="2.7" fill="#14aaf0"/>
<rect x="80.45" y="274.55" width="2.7" height="2.7" fill="#14aaf0"/>
<rect x="81.35" y="274.55" width="2.7" height="2.7" fill="#14aaf0"/>
<rect x="82.25" y="274.55" width="2.7" height="2.7" fill="#14aaf0"/>
<rect x="82.65" y="274.55" width="2.7" height="2.7" fill="#14aaf0"/>
<rect x="83.55" y="274.64" width="2.7" height="2.7" fill="#14aaf0"/>
<rect x="84.44" y="274.73" width="2.7" height="2.7" fill="#14aaf0"/>
<rect x="85.34" y="274.82" width="2.7" height="2.7" fill="#14aaf0"/>
<rect x="86.23" y="274.91" width="2.7" height="2.7" fill="#14aaf0"/>
<rect x="86.65" y="274.95" width="2.7" height="2.7" fill="#14aaf0"/>
<rect x="87.53" y="275.13" width="2.7" height="2.7" fill="#14aaf0"/>
<rect x="88.42" y="275.3" width="2.7" height="2.7" fill="#14aaf0"/>
<rect x="89.3" y="275.48" width="2.7" height="2.7" fill="#14aaf0"/>
<rect x="89.65" y="275.55" width="2.7" height="2.7" fill="#14aaf0"/>
<rect x="90.52" y="275.78" width="2.7" height="2.7" fill="#14aaf0"/>
<rect x="91.39" y="276.01" width="2.7" height="2.7" fill="#14aaf0"/>
<rect x="92.26" y="276.25" width="2.7" height="2.7" fill="#14aaf0"/>
<path d="M117.3,231.2 L119.3,234.6 L115.3,234.6 z" fill="#ecd21a"/>
<text x="125.4" y="235.65" font-size="6.8" text-anchor="start" fill="#3a3a3a" stroke="#3a3a3a" stroke-width="0.22"><tspan font-size="6.8">Pt/C</tspan></text>
<path d="M115.7,239.5 L119.3,241.5 L115.7,243.5 z" fill="#f494f4"/>
<text x="125.4" y="243.95" font-size="6.8" text-anchor="start" fill="#3a3a3a" stroke="#3a3a3a" stroke-width="0.22"><tspan font-size="6.8">Ru-JH</tspan></text>
<circle cx="117.3" cy="249.5" r="1.6" fill="#f58a8a"/>
<text x="125.4" y="251.95" font-size="6.8" text-anchor="start" fill="#3a3a3a" stroke="#3a3a3a" stroke-width="0.22"><tspan font-size="6.8">Mo-JH</tspan></text>
<circle cx="117.3" cy="257.6" r="1.6" fill="#6e86f4"/>
<text x="125.4" y="260.05" font-size="6.8" text-anchor="start" fill="#3a3a3a" stroke="#3a3a3a" stroke-width="0.22"><tspan font-size="6.8">Ru</tspan><tspan dy="1.5" font-size="3.94">1</tspan><tspan dy="-1.5" font-size="6.8">Mo</tspan><tspan dy="1.5" font-size="3.94">1</tspan></text>
<rect x="115.8" y="265.7" width="3" height="3" fill="#14aaf0"/>
<text x="125.4" y="269.65" font-size="6.8" text-anchor="start" fill="#3a3a3a" stroke="#3a3a3a" stroke-width="0.22"><tspan font-size="6.8">Ru</tspan><tspan dy="1.5" font-size="3.94">1</tspan><tspan dy="-1.5" font-size="6.8">Mo</tspan><tspan dy="1.5" font-size="3.94">1</tspan><tspan dy="-1.5" font-size="6.8">-JH</tspan></text>
<path d="M117.3,275.6 L119.3,277.6 L117.3,279.6 L115.3,277.6 z" fill="#72e020"/>
<text x="125.4" y="280.05" font-size="6.8" text-anchor="start" fill="#3a3a3a" stroke="#3a3a3a" stroke-width="0.22"><tspan font-size="6.8">Ru</tspan><tspan dy="1.5" font-size="3.94">1</tspan><tspan dy="-1.5" font-size="6.8">Mo</tspan><tspan dy="1.5" font-size="3.94">1</tspan><tspan dy="-1.5" font-size="6.8">-LT</tspan></text>
<rect x="211.1" y="165.4" width="148.5" height="117.7" fill="none" stroke="#2a2a2a" stroke-width="1.1"/>
<line x1="221.38" y1="283.1" x2="221.38" y2="285.5" stroke="#2a2a2a" stroke-width="1.2" />
<line x1="242.7" y1="283.1" x2="242.7" y2="285.5" stroke="#2a2a2a" stroke-width="1.2" />
<line x1="264.02" y1="283.1" x2="264.02" y2="285.5" stroke="#2a2a2a" stroke-width="1.2" />
<line x1="285.34" y1="283.1" x2="285.34" y2="285.5" stroke="#2a2a2a" stroke-width="1.2" />
<line x1="306.66" y1="283.1" x2="306.66" y2="285.5" stroke="#2a2a2a" stroke-width="1.2" />
<line x1="327.98" y1="283.1" x2="327.98" y2="285.5" stroke="#2a2a2a" stroke-width="1.2" />
<line x1="349.3" y1="283.1" x2="349.3" y2="285.5" stroke="#2a2a2a" stroke-width="1.2" />
<line x1="210.72" y1="283.1" x2="210.72" y2="284.6" stroke="#2a2a2a" stroke-width="1.2" />
<line x1="232.04" y1="283.1" x2="232.04" y2="284.6" stroke="#2a2a2a" stroke-width="1.2" />
<line x1="253.36" y1="283.1" x2="253.36" y2="284.6" stroke="#2a2a2a" stroke-width="1.2" />
<line x1="274.68" y1="283.1" x2="274.68" y2="284.6" stroke="#2a2a2a" stroke-width="1.2" />
<line x1="296" y1="283.1" x2="296" y2="284.6" stroke="#2a2a2a" stroke-width="1.2" />
<line x1="317.32" y1="283.1" x2="317.32" y2="284.6" stroke="#2a2a2a" stroke-width="1.2" />
<line x1="338.64" y1="283.1" x2="338.64" y2="284.6" stroke="#2a2a2a" stroke-width="1.2" />
<line x1="359.96" y1="283.1" x2="359.96" y2="284.6" stroke="#2a2a2a" stroke-width="1.2" />
<line x1="208.7" y1="273.5" x2="211.1" y2="273.5" stroke="#2a2a2a" stroke-width="1.2" />
<line x1="208.7" y1="255.5" x2="211.1" y2="255.5" stroke="#2a2a2a" stroke-width="1.2" />
<line x1="208.7" y1="237.5" x2="211.1" y2="237.5" stroke="#2a2a2a" stroke-width="1.2" />
<line x1="208.7" y1="219.5" x2="211.1" y2="219.5" stroke="#2a2a2a" stroke-width="1.2" />
<line x1="208.7" y1="201.5" x2="211.1" y2="201.5" stroke="#2a2a2a" stroke-width="1.2" />
<line x1="208.7" y1="183.5" x2="211.1" y2="183.5" stroke="#2a2a2a" stroke-width="1.2" />
<line x1="208.7" y1="165.5" x2="211.1" y2="165.5" stroke="#2a2a2a" stroke-width="1.2" />
<line x1="209.6" y1="264.5" x2="211.1" y2="264.5" stroke="#2a2a2a" stroke-width="1.2" />
<line x1="209.6" y1="246.5" x2="211.1" y2="246.5" stroke="#2a2a2a" stroke-width="1.2" />
<line x1="209.6" y1="228.5" x2="211.1" y2="228.5" stroke="#2a2a2a" stroke-width="1.2" />
<line x1="209.6" y1="210.5" x2="211.1" y2="210.5" stroke="#2a2a2a" stroke-width="1.2" />
<line x1="209.6" y1="192.5" x2="211.1" y2="192.5" stroke="#2a2a2a" stroke-width="1.2" />
<line x1="209.6" y1="174.5" x2="211.1" y2="174.5" stroke="#2a2a2a" stroke-width="1.2" />
<text x="221.38" y="293.24" font-size="7.6" text-anchor="middle" fill="#222" stroke="#222" stroke-width="0.22"><tspan font-size="7.6">-20</tspan></text>
<text x="242.7" y="293.24" font-size="7.6" text-anchor="middle" fill="#222" stroke="#222" stroke-width="0.22"><tspan font-size="7.6">0</tspan></text>
<text x="264.02" y="293.24" font-size="7.6" text-anchor="middle" fill="#222" stroke="#222" stroke-width="0.22"><tspan font-size="7.6">20</tspan></text>
<text x="285.34" y="293.24" font-size="7.6" text-anchor="middle" fill="#222" stroke="#222" stroke-width="0.22"><tspan font-size="7.6">40</tspan></text>
<text x="306.66" y="293.24" font-size="7.6" text-anchor="middle" fill="#222" stroke="#222" stroke-width="0.22"><tspan font-size="7.6">60</tspan></text>
<text x="327.98" y="293.24" font-size="7.6" text-anchor="middle" fill="#222" stroke="#222" stroke-width="0.22"><tspan font-size="7.6">80</tspan></text>
<text x="349.3" y="293.24" font-size="7.6" text-anchor="middle" fill="#222" stroke="#222" stroke-width="0.22"><tspan font-size="7.6">100</tspan></text>
<text x="206.8" y="276.24" font-size="7.6" text-anchor="end" fill="#222" stroke="#222" stroke-width="0.22"><tspan font-size="7.6">0</tspan></text>
<text x="206.8" y="258.24" font-size="7.6" text-anchor="end" fill="#222" stroke="#222" stroke-width="0.22"><tspan font-size="7.6">4</tspan></text>
<text x="206.8" y="240.24" font-size="7.6" text-anchor="end" fill="#222" stroke="#222" stroke-width="0.22"><tspan font-size="7.6">8</tspan></text>
<text x="206.8" y="222.24" font-size="7.6" text-anchor="end" fill="#222" stroke="#222" stroke-width="0.22"><tspan font-size="7.6">12</tspan></text>
<text x="206.8" y="204.24" font-size="7.6" text-anchor="end" fill="#222" stroke="#222" stroke-width="0.22"><tspan font-size="7.6">16</tspan></text>
<text x="206.8" y="186.24" font-size="7.6" text-anchor="end" fill="#222" stroke="#222" stroke-width="0.22"><tspan font-size="7.6">20</tspan></text>
<text x="206.8" y="168.24" font-size="7.6" text-anchor="end" fill="#222" stroke="#222" stroke-width="0.22"><tspan font-size="7.6">24</tspan></text>
<text x="285.6" y="305.08" font-size="8" text-anchor="middle" fill="#222" stroke="#222" stroke-width="0.22"><tspan font-size="8">Scan rate / mV·s</tspan><tspan dy="-2.88" font-size="5.12">−1</tspan></text>
<text x="194.2" y="226.55" font-size="8.2" text-anchor="middle" fill="#222" stroke="#222" stroke-width="0.22" transform="rotate(-90 194.2 223.6)"><tspan font-size="8.2">ΔJ /mA cm</tspan><tspan dy="-2.95" font-size="7.38">−2</tspan></text>
<text x="185" y="171.9" font-size="15" font-weight="bold" fill="#000">e</text>
<polyline points="264.02,272.9 285.34,272.9 306.66,272.9 327.98,272.9 349.3,272.9" fill="none" stroke="#dca0f2" stroke-width="1.2" stroke-linejoin="round" stroke-linecap="round" />
<circle cx="264.02" cy="272.9" r="1" fill="#dca0f2"/>
<circle cx="285.34" cy="272.9" r="1" fill="#dca0f2"/>
<circle cx="306.66" cy="272.9" r="1" fill="#dca0f2"/>
<circle cx="327.98" cy="272.9" r="1" fill="#dca0f2"/>
<circle cx="349.3" cy="272.9" r="1" fill="#dca0f2"/>
<polyline points="264.02,273.4 285.34,273.4 306.66,273.4 327.98,273.4 349.3,273.4" fill="none" stroke="#f58a8a" stroke-width="1.2" stroke-linejoin="round" stroke-linecap="round" />
<circle cx="264.02" cy="273.4" r="1" fill="#f58a8a"/>
<circle cx="285.34" cy="273.4" r="1" fill="#f58a8a"/>
<circle cx="306.66" cy="273.4" r="1" fill="#f58a8a"/>
<circle cx="327.98" cy="273.4" r="1" fill="#f58a8a"/>
<circle cx="349.3" cy="273.4" r="1" fill="#f58a8a"/>
<polyline points="264.02,272.4 285.34,272.4 306.66,272.4 327.98,272.4 349.3,272.4" fill="none" stroke="#7ee040" stroke-width="1.2" stroke-linejoin="round" stroke-linecap="round" />
<circle cx="264.02" cy="272.4" r="1" fill="#7ee040"/>
<circle cx="285.34" cy="272.4" r="1" fill="#7ee040"/>
<circle cx="306.66" cy="272.4" r="1" fill="#7ee040"/>
<circle cx="327.98" cy="272.4" r="1" fill="#7ee040"/>
<circle cx="349.3" cy="272.4" r="1" fill="#7ee040"/>
<polyline points="264.02,221.9 285.34,212.65 306.66,203.4 327.98,194.15 349.3,184.9" fill="none" stroke="#f8c060" stroke-width="1.1" stroke-linejoin="round" stroke-linecap="round" />
<circle cx="264.02" cy="221.9" r="1" fill="#f8c060"/>
<circle cx="285.34" cy="212.65" r="1" fill="#f8c060"/>
<circle cx="306.66" cy="203.4" r="1" fill="#f8c060"/>
<circle cx="327.98" cy="194.15" r="1" fill="#f8c060"/>
<circle cx="349.3" cy="184.9" r="1" fill="#f8c060"/>
<polyline points="264.02,223.4 285.34,221.85 306.66,220.3 327.98,218.75 349.3,217.2" fill="none" stroke="#6d80f3" stroke-width="1.3" stroke-linejoin="round" stroke-linecap="round" />
<circle cx="264.02" cy="223.4" r="1.5" fill="#6d80f3"/>
<circle cx="285.34" cy="221.85" r="1.5" fill="#6d80f3"/>
<circle cx="306.66" cy="220.3" r="1.5" fill="#6d80f3"/>
<circle cx="327.98" cy="218.75" r="1.5" fill="#6d80f3"/>
<circle cx="349.3" cy="217.2" r="1.5" fill="#6d80f3"/>
<polyline points="264.02,254.9 285.34,247.45 306.66,240 327.98,232.55 349.3,225.1" fill="none" stroke="#14a8ee" stroke-width="1.6" stroke-linejoin="round" stroke-linecap="round" />
<rect x="262.72" y="253.6" width="2.6" height="2.6" fill="#14a8ee"/>
<rect x="284.04" y="246.15" width="2.6" height="2.6" fill="#14a8ee"/>
<rect x="305.36" y="238.7" width="2.6" height="2.6" fill="#14a8ee"/>
<rect x="326.68" y="231.25" width="2.6" height="2.6" fill="#14a8ee"/>
<rect x="348" y="223.8" width="2.6" height="2.6" fill="#14a8ee"/>
<line x1="277.3" y1="272.7" x2="295.92" y2="252.6" stroke="#86e050" stroke-width="1.1" />
<path d="M300,248.2 L297.76,254.3 L294.09,250.9 z" fill="#86e050"/>
<line x1="285.5" y1="273.1" x2="297.04" y2="262.71" stroke="#e8a4f4" stroke-width="1.1" />
<path d="M301.5,258.7 L298.71,264.57 L295.37,260.86 z" fill="#e8a4f4"/>
<line x1="295.5" y1="273.1" x2="299.49" y2="268.87" stroke="#f58a8a" stroke-width="1.1" />
<path d="M303.6,264.5 L301.31,270.58 L297.67,267.15 z" fill="#f58a8a"/>
<text x="300" y="252.24" font-size="7.6" text-anchor="start" fill="#222" stroke="#222" stroke-width="0.22"><tspan font-size="7.6">2.15 mF cm</tspan><tspan dy="-2.74" font-size="4.86">−2</tspan></text>
<text x="304.2" y="260.94" font-size="7.6" text-anchor="start" fill="#222" stroke="#222" stroke-width="0.22"><tspan font-size="7.6">2.20 mF cm</tspan><tspan dy="-2.74" font-size="4.86">−2</tspan></text>
<text x="304.2" y="268.24" font-size="7.6" text-anchor="start" fill="#222" stroke="#222" stroke-width="0.22"><tspan font-size="7.6">0.30 mF cm</tspan><tspan dy="-2.74" font-size="4.86">−2</tspan></text>
<text x="316" y="197.24" font-size="7.6" text-anchor="middle" fill="#222" stroke="#222" stroke-width="0.22" transform="rotate(-24.5 316 194.5)"><tspan font-size="7.6">102.61mF cm</tspan><tspan dy="-2.74" font-size="4.86">−2</tspan></text>
<text x="319.5" y="216.74" font-size="7.6" text-anchor="middle" fill="#222" stroke="#222" stroke-width="0.22" transform="rotate(-4 319.5 214)"><tspan font-size="7.6">18.80 mF cm</tspan><tspan dy="-2.74" font-size="4.86">−2</tspan></text>
<text x="318.5" y="234.24" font-size="7.6" text-anchor="middle" fill="#222" stroke="#222" stroke-width="0.22" transform="rotate(-20 318.5 231.5)"><tspan font-size="7.6">83.09mF cm</tspan><tspan dy="-2.74" font-size="4.86">−2</tspan></text>
<line x1="213.3" y1="179.4" x2="227.4" y2="179.4" stroke="#14a8ee" stroke-width="1.5" />
<rect x="218.9" y="178.1" width="2.6" height="2.6" fill="#14a8ee"/>
<text x="229.6" y="181.85" font-size="6.8" text-anchor="start" fill="#333" stroke="#333" stroke-width="0.22"><tspan font-size="6.8">Ru</tspan><tspan dy="1.5" font-size="3.94">1</tspan><tspan dy="-1.5" font-size="6.8">Mo</tspan><tspan dy="1.5" font-size="3.94">1</tspan><tspan dy="-1.5" font-size="6.8">-JH</tspan></text>
<line x1="213.3" y1="189.4" x2="227.4" y2="189.4" stroke="#7ee040" stroke-width="1.1" />
<circle cx="220.3" cy="189.4" r="1" fill="#7ee040"/>
<text x="229.6" y="191.85" font-size="6.8" text-anchor="start" fill="#333" stroke="#333" stroke-width="0.22"><tspan font-size="6.8">Ru</tspan><tspan dy="1.5" font-size="3.94">1</tspan><tspan dy="-1.5" font-size="6.8">Mo</tspan><tspan dy="1.5" font-size="3.94">1</tspan><tspan dy="-1.5" font-size="6.8">-LT</tspan></text>
<line x1="213.3" y1="199.1" x2="227.4" y2="199.1" stroke="#dca0f2" stroke-width="1.1" />
<circle cx="220.3" cy="199.1" r="1" fill="#dca0f2"/>
<text x="229.6" y="201.55" font-size="6.8" text-anchor="start" fill="#333" stroke="#333" stroke-width="0.22"><tspan font-size="6.8">Ru-JH</tspan></text>
<line x1="213.3" y1="207.7" x2="227.4" y2="207.7" stroke="#f58a8a" stroke-width="1.1" />
<circle cx="220.3" cy="207.7" r="1" fill="#f58a8a"/>
<text x="229.6" y="210.15" font-size="6.8" text-anchor="start" fill="#333" stroke="#333" stroke-width="0.22"><tspan font-size="6.8">Mo-JH</tspan></text>
<line x1="213.3" y1="216.4" x2="227.4" y2="216.4" stroke="#6d80f3" stroke-width="1.1" />
<circle cx="220.3" cy="216.4" r="1.5" fill="#6d80f3"/>
<text x="229.6" y="218.85" font-size="6.8" text-anchor="start" fill="#333" stroke="#333" stroke-width="0.22"><tspan font-size="6.8">Ru</tspan><tspan dy="1.5" font-size="3.94">1</tspan><tspan dy="-1.5" font-size="6.8">Mo</tspan><tspan dy="1.5" font-size="3.94">1</tspan></text>
<line x1="213.3" y1="226.1" x2="227.4" y2="226.1" stroke="#f8c060" stroke-width="1.1" />
<circle cx="220.3" cy="226.1" r="1" fill="#f8c060"/>
<text x="229.6" y="228.55" font-size="6.8" text-anchor="start" fill="#333" stroke="#333" stroke-width="0.22"><tspan font-size="6.8">Pt/C</tspan></text>
<rect x="391" y="163.5" width="147.3" height="119.6" fill="none" stroke="#2a2a2a" stroke-width="1.1"/>
<line x1="391" y1="283.1" x2="391" y2="285.5" stroke="#2a2a2a" stroke-width="1.2" />
<line x1="420.46" y1="283.1" x2="420.46" y2="285.5" stroke="#2a2a2a" stroke-width="1.2" />
<line x1="449.92" y1="283.1" x2="449.92" y2="285.5" stroke="#2a2a2a" stroke-width="1.2" />
<line x1="479.38" y1="283.1" x2="479.38" y2="285.5" stroke="#2a2a2a" stroke-width="1.2" />
<line x1="508.84" y1="283.1" x2="508.84" y2="285.5" stroke="#2a2a2a" stroke-width="1.2" />
<line x1="538.3" y1="283.1" x2="538.3" y2="285.5" stroke="#2a2a2a" stroke-width="1.2" />
<line x1="405.73" y1="283.1" x2="405.73" y2="284.6" stroke="#2a2a2a" stroke-width="1.2" />
<line x1="435.19" y1="283.1" x2="435.19" y2="284.6" stroke="#2a2a2a" stroke-width="1.2" />
<line x1="464.65" y1="283.1" x2="464.65" y2="284.6" stroke="#2a2a2a" stroke-width="1.2" />
<line x1="494.11" y1="283.1" x2="494.11" y2="284.6" stroke="#2a2a2a" stroke-width="1.2" />
<line x1="523.57" y1="283.1" x2="523.57" y2="284.6" stroke="#2a2a2a" stroke-width="1.2" />
<line x1="388.6" y1="163.45" x2="391" y2="163.45" stroke="#2a2a2a" stroke-width="1.2" />
<line x1="388.6" y1="193.2" x2="391" y2="193.2" stroke="#2a2a2a" stroke-width="1.2" />
<line x1="388.6" y1="222.95" x2="391" y2="222.95" stroke="#2a2a2a" stroke-width="1.2" />
<line x1="388.6" y1="252.7" x2="391" y2="252.7" stroke="#2a2a2a" stroke-width="1.2" />
<line x1="388.6" y1="282.45" x2="391" y2="282.45" stroke="#2a2a2a" stroke-width="1.2" />
<line x1="389.5" y1="178.32" x2="391" y2="178.32" stroke="#2a2a2a" stroke-width="1.2" />
<line x1="389.5" y1="208.07" x2="391" y2="208.07" stroke="#2a2a2a" stroke-width="1.2" />
<line x1="389.5" y1="237.82" x2="391" y2="237.82" stroke="#2a2a2a" stroke-width="1.2" />
<line x1="389.5" y1="267.57" x2="391" y2="267.57" stroke="#2a2a2a" stroke-width="1.2" />
<text x="391" y="293.24" font-size="7.6" text-anchor="middle" fill="#222" stroke="#222" stroke-width="0.22"><tspan font-size="7.6">0</tspan></text>
<text x="420.46" y="293.24" font-size="7.6" text-anchor="middle" fill="#222" stroke="#222" stroke-width="0.22"><tspan font-size="7.6">20</tspan></text>
<text x="449.92" y="293.24" font-size="7.6" text-anchor="middle" fill="#222" stroke="#222" stroke-width="0.22"><tspan font-size="7.6">40</tspan></text>
<text x="479.38" y="293.24" font-size="7.6" text-anchor="middle" fill="#222" stroke="#222" stroke-width="0.22"><tspan font-size="7.6">60</tspan></text>
<text x="508.84" y="293.24" font-size="7.6" text-anchor="middle" fill="#222" stroke="#222" stroke-width="0.22"><tspan font-size="7.6">80</tspan></text>
<text x="538.3" y="293.24" font-size="7.6" text-anchor="middle" fill="#222" stroke="#222" stroke-width="0.22"><tspan font-size="7.6">100</tspan></text>
<text x="385.9" y="166.19" font-size="7.6" text-anchor="end" fill="#222" stroke="#222" stroke-width="0.22"><tspan font-size="7.6">0.5</tspan></text>
<text x="385.9" y="195.94" font-size="7.6" text-anchor="end" fill="#222" stroke="#222" stroke-width="0.22"><tspan font-size="7.6">0.0</tspan></text>
<text x="385.9" y="225.69" font-size="7.6" text-anchor="end" fill="#222" stroke="#222" stroke-width="0.22"><tspan font-size="7.6">-0.5</tspan></text>
<text x="385.9" y="255.44" font-size="7.6" text-anchor="end" fill="#222" stroke="#222" stroke-width="0.22"><tspan font-size="7.6">-1.0</tspan></text>
<text x="385.9" y="285.19" font-size="7.6" text-anchor="end" fill="#222" stroke="#222" stroke-width="0.22"><tspan font-size="7.6">-1.5</tspan></text>
<text x="464.5" y="306.48" font-size="8" text-anchor="middle" fill="#222" stroke="#222" stroke-width="0.22"><tspan font-size="8">Time (h)</tspan></text>
<text x="365.7" y="226.09" font-size="7.75" text-anchor="middle" fill="#222" stroke="#222" stroke-width="0.22" transform="rotate(-90 365.7 223.3)"><tspan font-size="7.75">Potential (V vs.RHE)</tspan></text>
<text x="364" y="172.2" font-size="15" font-weight="bold" fill="#000">f</text>
<polyline points="391,211.4 394,212.8 398,214.1 402.5,214.6 420,214.7 440,214.7 455,214.5 461,213.9 465,213.4 470,214.1 481,215 495,215.2 507,215.5 515,216.3 522,216.7 530,216.3 538,216.2" fill="none" stroke="#f41a1a" stroke-width="2.7" stroke-linejoin="round" stroke-linecap="round" />
<circle cx="391" cy="211.75" r="1.45" fill="#f41a1a"/>
<circle cx="393.36" cy="212.85" r="1.45" fill="#f41a1a"/>
<circle cx="394" cy="213.15" r="1.45" fill="#f41a1a"/>
<circle cx="396.47" cy="213.95" r="1.45" fill="#f41a1a"/>
<circle cx="398" cy="214.45" r="1.45" fill="#f41a1a"/>
<circle cx="400.58" cy="214.74" r="1.45" fill="#f41a1a"/>
<circle cx="402.5" cy="214.95" r="1.45" fill="#f41a1a"/>
<circle cx="405.1" cy="214.96" r="1.45" fill="#f41a1a"/>
<circle cx="407.7" cy="214.98" r="1.45" fill="#f41a1a"/>
<circle cx="410.3" cy="214.99" r="1.45" fill="#f41a1a"/>
<circle cx="412.9" cy="215.01" r="1.45" fill="#f41a1a"/>
<circle cx="415.5" cy="215.02" r="1.45" fill="#f41a1a"/>
<circle cx="418.1" cy="215.04" r="1.45" fill="#f41a1a"/>
<circle cx="420" cy="215.05" r="1.45" fill="#f41a1a"/>
<circle cx="422.6" cy="215.05" r="1.45" fill="#f41a1a"/>
<circle cx="425.2" cy="215.05" r="1.45" fill="#f41a1a"/>
<circle cx="427.8" cy="215.05" r="1.45" fill="#f41a1a"/>
<circle cx="430.4" cy="215.05" r="1.45" fill="#f41a1a"/>
<circle cx="433" cy="215.05" r="1.45" fill="#f41a1a"/>
<circle cx="435.6" cy="215.05" r="1.45" fill="#f41a1a"/>
<circle cx="438.2" cy="215.05" r="1.45" fill="#f41a1a"/>
<circle cx="440" cy="215.05" r="1.45" fill="#f41a1a"/>
<circle cx="442.6" cy="215.02" r="1.45" fill="#f41a1a"/>
<circle cx="445.2" cy="214.98" r="1.45" fill="#f41a1a"/>
<circle cx="447.8" cy="214.95" r="1.45" fill="#f41a1a"/>
<circle cx="450.4" cy="214.91" r="1.45" fill="#f41a1a"/>
<circle cx="453" cy="214.88" r="1.45" fill="#f41a1a"/>
<circle cx="455" cy="214.85" r="1.45" fill="#f41a1a"/>
<circle cx="457.59" cy="214.59" r="1.45" fill="#f41a1a"/>
<circle cx="460.17" cy="214.33" r="1.45" fill="#f41a1a"/>
<circle cx="461" cy="214.25" r="1.45" fill="#f41a1a"/>
<circle cx="463.58" cy="213.93" r="1.45" fill="#f41a1a"/>
<circle cx="465" cy="213.75" r="1.45" fill="#f41a1a"/>
<circle cx="467.57" cy="214.11" r="1.45" fill="#f41a1a"/>
<circle cx="470" cy="214.45" r="1.45" fill="#f41a1a"/>
<circle cx="472.59" cy="214.66" r="1.45" fill="#f41a1a"/>
<circle cx="475.18" cy="214.87" r="1.45" fill="#f41a1a"/>
<circle cx="477.77" cy="215.09" r="1.45" fill="#f41a1a"/>
<circle cx="480.37" cy="215.3" r="1.45" fill="#f41a1a"/>
<circle cx="481" cy="215.35" r="1.45" fill="#f41a1a"/>
<circle cx="483.6" cy="215.39" r="1.45" fill="#f41a1a"/>
<circle cx="486.2" cy="215.42" r="1.45" fill="#f41a1a"/>
<circle cx="488.8" cy="215.46" r="1.45" fill="#f41a1a"/>
<circle cx="491.4" cy="215.5" r="1.45" fill="#f41a1a"/>
<circle cx="494" cy="215.54" r="1.45" fill="#f41a1a"/>
<circle cx="495" cy="215.55" r="1.45" fill="#f41a1a"/>
<circle cx="497.6" cy="215.61" r="1.45" fill="#f41a1a"/>
<circle cx="500.2" cy="215.68" r="1.45" fill="#f41a1a"/>
<circle cx="502.8" cy="215.74" r="1.45" fill="#f41a1a"/>
<circle cx="505.4" cy="215.81" r="1.45" fill="#f41a1a"/>
<circle cx="507" cy="215.85" r="1.45" fill="#f41a1a"/>
<circle cx="509.59" cy="216.11" r="1.45" fill="#f41a1a"/>
<circle cx="512.17" cy="216.37" r="1.45" fill="#f41a1a"/>
<circle cx="514.76" cy="216.63" r="1.45" fill="#f41a1a"/>
<circle cx="515" cy="216.65" r="1.45" fill="#f41a1a"/>
<circle cx="517.6" cy="216.8" r="1.45" fill="#f41a1a"/>
<circle cx="520.19" cy="216.95" r="1.45" fill="#f41a1a"/>
<circle cx="522" cy="217.05" r="1.45" fill="#f41a1a"/>
<circle cx="524.6" cy="216.92" r="1.45" fill="#f41a1a"/>
<circle cx="527.19" cy="216.79" r="1.45" fill="#f41a1a"/>
<circle cx="529.79" cy="216.66" r="1.45" fill="#f41a1a"/>
<circle cx="530" cy="216.65" r="1.45" fill="#f41a1a"/>
<circle cx="532.6" cy="216.62" r="1.45" fill="#f41a1a"/>
<circle cx="535.2" cy="216.59" r="1.45" fill="#f41a1a"/>
<circle cx="537.8" cy="216.55" r="1.45" fill="#f41a1a"/>
<text x="475.2" y="209.62" font-size="8.4" text-anchor="start" fill="#222" stroke="#222" stroke-width="0.22"><tspan font-size="8.4">@100mA cm</tspan><tspan dy="-3.02" font-size="6.3">−2</tspan></text>
<text x="459.6" y="278.36" font-size="11" text-anchor="middle" fill="#111" stroke="#111" stroke-width="0.22"><tspan font-size="11">Ru</tspan><tspan dy="2.42" font-size="6.38">1</tspan><tspan dy="-2.42" font-size="11">Mo</tspan><tspan dy="2.42" font-size="6.38">1</tspan><tspan dy="-2.42" font-size="11">-JH</tspan></text>
<rect x="41" y="314.3" width="502.6" height="124.7" fill="none" stroke="#2a2a2a" stroke-width="1.1"/>
<line x1="38.6" y1="439" x2="41" y2="439" stroke="#2a2a2a" stroke-width="1.2" />
<line x1="38.6" y1="423.41" x2="41" y2="423.41" stroke="#2a2a2a" stroke-width="1.2" />
<line x1="38.6" y1="407.82" x2="41" y2="407.82" stroke="#2a2a2a" stroke-width="1.2" />
<line x1="38.6" y1="392.24" x2="41" y2="392.24" stroke="#2a2a2a" stroke-width="1.2" />
<line x1="38.6" y1="376.65" x2="41" y2="376.65" stroke="#2a2a2a" stroke-width="1.2" />
<line x1="38.6" y1="361.06" x2="41" y2="361.06" stroke="#2a2a2a" stroke-width="1.2" />
<line x1="38.6" y1="345.48" x2="41" y2="345.48" stroke="#2a2a2a" stroke-width="1.2" />
<line x1="38.6" y1="329.89" x2="41" y2="329.89" stroke="#2a2a2a" stroke-width="1.2" />
<line x1="38.6" y1="314.3" x2="41" y2="314.3" stroke="#2a2a2a" stroke-width="1.2" />
<line x1="39.5" y1="431.21" x2="41" y2="431.21" stroke="#2a2a2a" stroke-width="1.2" />
<line x1="39.5" y1="415.62" x2="41" y2="415.62" stroke="#2a2a2a" stroke-width="1.2" />
<line x1="39.5" y1="400.03" x2="41" y2="400.03" stroke="#2a2a2a" stroke-width="1.2" />
<line x1="39.5" y1="384.44" x2="41" y2="384.44" stroke="#2a2a2a" stroke-width="1.2" />
<line x1="39.5" y1="368.86" x2="41" y2="368.86" stroke="#2a2a2a" stroke-width="1.2" />
<line x1="39.5" y1="353.27" x2="41" y2="353.27" stroke="#2a2a2a" stroke-width="1.2" />
<line x1="39.5" y1="337.68" x2="41" y2="337.68" stroke="#2a2a2a" stroke-width="1.2" />
<line x1="39.5" y1="322.09" x2="41" y2="322.09" stroke="#2a2a2a" stroke-width="1.2" />
<text x="35.6" y="441.99" font-size="8.3" text-anchor="end" fill="#222" stroke="#222" stroke-width="0.22"><tspan font-size="8.3">0</tspan></text>
<text x="35.6" y="426.4" font-size="8.3" text-anchor="end" fill="#222" stroke="#222" stroke-width="0.22"><tspan font-size="8.3">50</tspan></text>
<text x="35.6" y="410.81" font-size="8.3" text-anchor="end" fill="#222" stroke="#222" stroke-width="0.22"><tspan font-size="8.3">100</tspan></text>
<text x="35.6" y="395.23" font-size="8.3" text-anchor="end" fill="#222" stroke="#222" stroke-width="0.22"><tspan font-size="8.3">150</tspan></text>
<text x="35.6" y="379.64" font-size="8.3" text-anchor="end" fill="#222" stroke="#222" stroke-width="0.22"><tspan font-size="8.3">200</tspan></text>
<text x="35.6" y="364.05" font-size="8.3" text-anchor="end" fill="#222" stroke="#222" stroke-width="0.22"><tspan font-size="8.3">250</tspan></text>
<text x="35.6" y="348.46" font-size="8.3" text-anchor="end" fill="#222" stroke="#222" stroke-width="0.22"><tspan font-size="8.3">300</tspan></text>
<text x="35.6" y="332.88" font-size="8.3" text-anchor="end" fill="#222" stroke="#222" stroke-width="0.22"><tspan font-size="8.3">350</tspan></text>
<text x="35.6" y="317.29" font-size="8.3" text-anchor="end" fill="#222" stroke="#222" stroke-width="0.22"><tspan font-size="8.3">400</tspan></text>
<text x="15.2" y="379.22" font-size="8.1" text-anchor="middle" fill="#222" stroke="#222" stroke-width="0.22" transform="rotate(-90 15.2 376.3)"><tspan font-size="8.1">Overpotential (mV)</tspan></text>
<text x="6.5" y="324" font-size="15" font-weight="bold" fill="#000">g</text>
<line x1="65.9" y1="439" x2="65.9" y2="441.4" stroke="#2a2a2a" stroke-width="1.2" />
<line x1="116.07" y1="439" x2="116.07" y2="441.4" stroke="#2a2a2a" stroke-width="1.2" />
<line x1="166.24" y1="439" x2="166.24" y2="441.4" stroke="#2a2a2a" stroke-width="1.2" />
<line x1="216.41" y1="439" x2="216.41" y2="441.4" stroke="#2a2a2a" stroke-width="1.2" />
<line x1="266.58" y1="439" x2="266.58" y2="441.4" stroke="#2a2a2a" stroke-width="1.2" />
<line x1="316.75" y1="439" x2="316.75" y2="441.4" stroke="#2a2a2a" stroke-width="1.2" />
<line x1="366.92" y1="439" x2="366.92" y2="441.4" stroke="#2a2a2a" stroke-width="1.2" />
<line x1="417.09" y1="439" x2="417.09" y2="441.4" stroke="#2a2a2a" stroke-width="1.2" />
<line x1="467.26" y1="439" x2="467.26" y2="441.4" stroke="#2a2a2a" stroke-width="1.2" />
<line x1="517.43" y1="439" x2="517.43" y2="441.4" stroke="#2a2a2a" stroke-width="1.2" />
<line x1="90.98" y1="439" x2="90.98" y2="440.5" stroke="#2a2a2a" stroke-width="1.2" />
<line x1="141.15" y1="439" x2="141.15" y2="440.5" stroke="#2a2a2a" stroke-width="1.2" />
<line x1="191.32" y1="439" x2="191.32" y2="440.5" stroke="#2a2a2a" stroke-width="1.2" />
<line x1="241.49" y1="439" x2="241.49" y2="440.5" stroke="#2a2a2a" stroke-width="1.2" />
<line x1="291.66" y1="439" x2="291.66" y2="440.5" stroke="#2a2a2a" stroke-width="1.2" />
<line x1="341.83" y1="439" x2="341.83" y2="440.5" stroke="#2a2a2a" stroke-width="1.2" />
<line x1="392" y1="439" x2="392" y2="440.5" stroke="#2a2a2a" stroke-width="1.2" />
<line x1="442.17" y1="439" x2="442.17" y2="440.5" stroke="#2a2a2a" stroke-width="1.2" />
<line x1="492.34" y1="439" x2="492.34" y2="440.5" stroke="#2a2a2a" stroke-width="1.2" />
<rect x="45.9" y="431.18" width="20" height="7.82" fill="url(#org)"/>
<rect x="65.9" y="401.43" width="20" height="37.57" fill="url(#grn)"/>
<text x="55.9" y="429.69" font-size="7.8" text-anchor="middle" fill="#222" stroke="#222" stroke-width="0.22"><tspan font-size="7.8">25.08</tspan></text>
<text x="75.9" y="399.94" font-size="7.8" text-anchor="middle" fill="#222" stroke="#222" stroke-width="0.22"><tspan font-size="7.8">120.52</tspan></text>
<rect x="96.07" y="430.58" width="20" height="8.42" fill="url(#org)"/>
<rect x="116.07" y="407.82" width="20" height="31.18" fill="url(#grn)"/>
<text x="106.07" y="429.09" font-size="7.8" text-anchor="middle" fill="#222" stroke="#222" stroke-width="0.22"><tspan font-size="7.8">27</tspan></text>
<text x="126.07" y="406.33" font-size="7.8" text-anchor="middle" fill="#222" stroke="#222" stroke-width="0.22"><tspan font-size="7.8">100</tspan></text>
<rect x="146.24" y="430.58" width="20" height="8.42" fill="url(#org)"/>
<rect x="166.24" y="398.47" width="20" height="40.53" fill="url(#grn)"/>
<text x="156.24" y="429.09" font-size="7.8" text-anchor="middle" fill="#222" stroke="#222" stroke-width="0.22"><tspan font-size="7.8">27</tspan></text>
<text x="176.24" y="396.98" font-size="7.8" text-anchor="middle" fill="#222" stroke="#222" stroke-width="0.22"><tspan font-size="7.8">130</tspan></text>
<rect x="196.41" y="428.15" width="20" height="10.85" fill="url(#org)"/>
<rect x="216.41" y="394.14" width="20" height="44.86" fill="url(#grn)"/>
<text x="206.41" y="426.66" font-size="7.8" text-anchor="middle" fill="#222" stroke="#222" stroke-width="0.22"><tspan font-size="7.8">34.8</tspan></text>
<text x="226.41" y="392.65" font-size="7.8" text-anchor="middle" fill="#222" stroke="#222" stroke-width="0.22"><tspan font-size="7.8">143.9</tspan></text>
<rect x="246.58" y="419.36" width="20" height="19.64" fill="url(#org)"/>
<rect x="266.58" y="376.65" width="20" height="62.35" fill="url(#grn)"/>
<text x="256.58" y="417.87" font-size="7.8" text-anchor="middle" fill="#222" stroke="#222" stroke-width="0.22"><tspan font-size="7.8">63</tspan></text>
<text x="276.58" y="375.16" font-size="7.8" text-anchor="middle" fill="#222" stroke="#222" stroke-width="0.22"><tspan font-size="7.8">200</tspan></text>
<rect x="296.75" y="419.98" width="20" height="19.02" fill="url(#org)"/>
<rect x="316.75" y="389.12" width="20" height="49.88" fill="url(#grn)"/>
<text x="306.75" y="418.49" font-size="7.8" text-anchor="middle" fill="#222" stroke="#222" stroke-width="0.22"><tspan font-size="7.8">61</tspan></text>
<text x="326.75" y="387.63" font-size="7.8" text-anchor="middle" fill="#222" stroke="#222" stroke-width="0.22"><tspan font-size="7.8">160</tspan></text>
<rect x="346.92" y="416.87" width="20" height="22.13" fill="url(#org)"/>
<rect x="366.92" y="376.65" width="20" height="62.35" fill="url(#grn)"/>
<text x="356.92" y="415.37" font-size="7.8" text-anchor="middle" fill="#222" stroke="#222" stroke-width="0.22"><tspan font-size="7.8">71</tspan></text>
<text x="376.92" y="375.16" font-size="7.8" text-anchor="middle" fill="#222" stroke="#222" stroke-width="0.22"><tspan font-size="7.8">200</tspan></text>
<rect x="397.09" y="412.5" width="20" height="26.5" fill="url(#org)"/>
<rect x="417.09" y="325.21" width="20" height="113.79" fill="url(#grn)"/>
<text x="407.09" y="411.01" font-size="7.8" text-anchor="middle" fill="#222" stroke="#222" stroke-width="0.22"><tspan font-size="7.8">85</tspan></text>
<text x="427.09" y="323.72" font-size="7.8" text-anchor="middle" fill="#222" stroke="#222" stroke-width="0.22"><tspan font-size="7.8">365</tspan></text>
<rect x="447.26" y="408.45" width="20" height="30.55" fill="url(#org)"/>
<rect x="467.26" y="367.3" width="20" height="71.7" fill="url(#grn)"/>
<text x="457.26" y="406.96" font-size="7.8" text-anchor="middle" fill="#222" stroke="#222" stroke-width="0.22"><tspan font-size="7.8">98</tspan></text>
<text x="477.26" y="365.81" font-size="7.8" text-anchor="middle" fill="#222" stroke="#222" stroke-width="0.22"><tspan font-size="7.8">230</tspan></text>
<rect x="497.43" y="403.15" width="20" height="35.85" fill="url(#org)"/>
<rect x="517.43" y="365.74" width="20" height="73.26" fill="url(#grn)"/>
<text x="507.43" y="401.66" font-size="7.8" text-anchor="middle" fill="#222" stroke="#222" stroke-width="0.22"><tspan font-size="7.8">115</tspan></text>
<text x="527.43" y="364.25" font-size="7.8" text-anchor="middle" fill="#222" stroke="#222" stroke-width="0.22"><tspan font-size="7.8">235</tspan></text>
<line x1="41" y1="439" x2="543.6" y2="439" stroke="#2a2a2a" stroke-width="1.1" />
<rect x="48.2" y="331.3" width="15.4" height="6.9" fill="url(#org)"/>
<rect x="48.2" y="341.8" width="15.4" height="6.9" fill="url(#grn)"/>
<text x="66.9" y="337.47" font-size="8.8" text-anchor="start" fill="#222" stroke="#222" stroke-width="0.22"><tspan font-size="8.8">10mA·cm</tspan><tspan dy="-3.17" font-size="6.34">−2</tspan></text>
<text x="66.9" y="347.87" font-size="8.8" text-anchor="start" fill="#222" stroke="#222" stroke-width="0.22"><tspan font-size="8.8">100mA·cm</tspan><tspan dy="-3.17" font-size="6.34">−2</tspan></text>
<text x="62.7" y="458.59" font-size="7.2" text-anchor="middle" fill="#222" stroke="#222" stroke-width="0.22" transform="rotate(-10 62.7 456)"><tspan font-size="7.2">This Work</tspan></text>
<text x="112.7" y="459.99" font-size="7.2" text-anchor="middle" fill="#222" stroke="#222" stroke-width="0.22" transform="rotate(-5 112.7 457.4)"><tspan font-size="7.2">W</tspan><tspan dy="1.58" font-size="4.18">0.05</tspan><tspan dy="-1.58" font-size="7.2">-RuP</tspan><tspan dy="1.58" font-size="4.18">2</tspan></text>
<text x="162.7" y="460.09" font-size="7.2" text-anchor="middle" fill="#222" stroke="#222" stroke-width="0.22" transform="rotate(-5 162.7 457.5)"><tspan font-size="7.2">Ru/P-TiO</tspan><tspan dy="1.58" font-size="4.18">2</tspan></text>
<text x="213" y="459.39" font-size="7.2" text-anchor="middle" fill="#222" stroke="#222" stroke-width="0.22" transform="rotate(-5 213 456.8)"><tspan font-size="7.2">Mo-Ru/CNTs</tspan></text>
<text x="245.2" y="461.89" font-size="7.2" text-anchor="middle" fill="#222" stroke="#222" stroke-width="0.22"><tspan font-size="7.2">10:</tspan></text>
<text x="271.6" y="459.89" font-size="7.2" text-anchor="middle" fill="#222" stroke="#222" stroke-width="0.22" transform="rotate(-5 271.6 457.3)"><tspan font-size="7.2">MoCo/VS</tspan><tspan dy="1.58" font-size="4.18">2</tspan></text>
<text x="313.8" y="460.29" font-size="7.2" text-anchor="middle" fill="#222" stroke="#222" stroke-width="0.22" transform="rotate(-3 313.8 457.7)"><tspan font-size="7.2">Mo-O</tspan><tspan dy="1.58" font-size="4.18">2</tspan><tspan dy="-1.58" font-size="7.2">C</tspan><tspan dy="1.58" font-size="4.18">2</tspan></text>
<text x="363.5" y="459.89" font-size="7.2" text-anchor="middle" fill="#222" stroke="#222" stroke-width="0.22" transform="rotate(-8 363.5 457.3)"><tspan font-size="7.2">Mo-O</tspan><tspan dy="1.58" font-size="4.18">2</tspan><tspan dy="-1.58" font-size="7.2">N</tspan><tspan dy="1.58" font-size="4.18">1</tspan><tspan dy="-1.58" font-size="7.2">C</tspan><tspan dy="1.58" font-size="4.18">1</tspan></text>
<text x="414.7" y="458.68" font-size="6.9" text-anchor="middle" fill="#222" stroke="#222" stroke-width="0.22" transform="rotate(-8.5 414.7 456.2)"><tspan font-size="6.9">Mo</tspan><tspan dy="1.52" font-size="4.14">0.29</tspan><tspan dy="-1.52" font-size="6.9">Co</tspan><tspan dy="1.52" font-size="4.14">0.71</tspan><tspan dy="-1.52" font-size="6.9">P</tspan><tspan dy="1.52" font-size="4.14">2</tspan><tspan dy="-1.52" font-size="6.9">/MWCNTs</tspan></text>
<text x="464.2" y="460.29" font-size="7.2" text-anchor="middle" fill="#222" stroke="#222" stroke-width="0.22" transform="rotate(-3 464.2 457.7)"><tspan font-size="7.2">Mo-O</tspan><tspan dy="1.58" font-size="4.18">2</tspan><tspan dy="-1.58" font-size="7.2">N</tspan><tspan dy="1.58" font-size="4.18">2</tspan></text>
<text x="515.1" y="460.79" font-size="7.2" text-anchor="middle" fill="#222" stroke="#222" stroke-width="0.22" transform="rotate(-6 515.1 458.2)"><tspan font-size="7.2">CoSe/MoSe</tspan><tspan dy="1.58" font-size="4.18">2</tspan></text>
</svg></body></html>
